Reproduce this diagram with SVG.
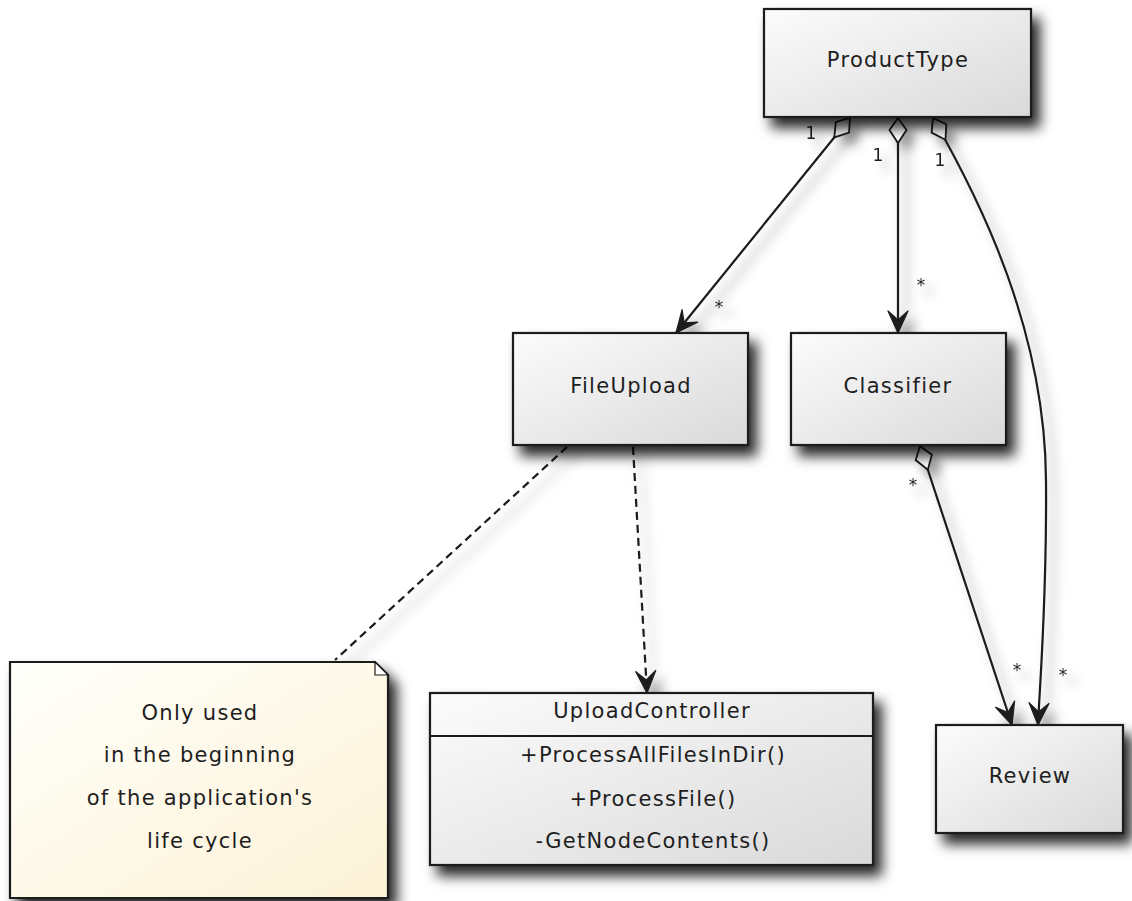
<svg xmlns="http://www.w3.org/2000/svg" width="1132" height="901" viewBox="0 0 1132 901">
<defs>
<linearGradient id="boxFill" x1="0" y1="0" x2="1" y2="1">
<stop offset="0" stop-color="#fcfcfc"/>
<stop offset="1" stop-color="#d9d9d9"/>
</linearGradient>
<linearGradient id="noteFill" x1="0" y1="0" x2="1" y2="1">
<stop offset="0" stop-color="#fffffb"/>
<stop offset="1" stop-color="#fcf2d6"/>
</linearGradient>
<filter id="shadow" x="-20%" y="-20%" width="150%" height="170%">
<feDropShadow dx="8" dy="10" stdDeviation="6.5" flood-color="#000" flood-opacity="0.85"/>
</filter>
<filter id="lineShadow" x="-20%" y="-20%" width="150%" height="150%">
<feDropShadow dx="8" dy="9" stdDeviation="6" flood-color="#000" flood-opacity="0.45"/>
</filter>
<marker id="diamond" markerUnits="userSpaceOnUse" markerWidth="30" markerHeight="22" refX="1" refY="10" orient="auto" overflow="visible">
<path d="M1,10 L13,1.5 L26,10 L13,18.5 Z" fill="#fff" stroke="#1a1a1a" stroke-width="1.8" stroke-linejoin="miter"/>
</marker>
<marker id="arrow" markerUnits="userSpaceOnUse" markerWidth="24" markerHeight="22" refX="22" refY="10" orient="auto" overflow="visible">
<path d="M22,10 L0,0 L9,10 L0,20 Z" fill="#1e1e1e" stroke="#1e1e1e" stroke-width="1.2" stroke-linejoin="round"/>
</marker>
</defs>
<style>
.box{fill:url(#boxFill);stroke:#1a1a1a;stroke-width:2.2;filter:url(#shadow)}
.note{fill:url(#noteFill);stroke:#1a1a1a;stroke-width:2.2;filter:url(#shadow)}
.t{font-family:"DejaVu Sans","Verdana",sans-serif;font-size:21px;letter-spacing:1.3px;fill:#1e1e1e;text-anchor:middle}
.m{font-family:"DejaVu Sans","Verdana",sans-serif;font-size:17px;fill:#1e1e1e;text-anchor:middle}
.c{fill:none;stroke:#1a1a1a;stroke-width:2.2}
.dash{stroke-dasharray:8,5}
</style>
<rect width="1132" height="901" fill="#fff"/>

<g id="connectors" filter="url(#lineShadow)">
<path class="c" d="M850,118 L676,333" marker-start="url(#diamond)" marker-end="url(#arrow)"/>
<path class="c" d="M898,118 L898,333" marker-start="url(#diamond)" marker-end="url(#arrow)"/>
<path class="c" d="M933,118 C980,200 1045,330 1046,480 C1047,600 1040,680 1038,725" marker-start="url(#diamond)" marker-end="url(#arrow)"/>
<path class="c" d="M920,446 L1012,725" marker-start="url(#diamond)" marker-end="url(#arrow)"/>
<path class="c dash" d="M633,447 L647,693" marker-end="url(#arrow)"/>
<path class="c dash" d="M567,447 L335,660"/>
<text class="m" x="811" y="139">1</text>
<text class="m" x="878" y="161">1</text>
<text class="m" x="940" y="166">1</text>
<text class="m" x="719" y="313">*</text>
<text class="m" x="921" y="291">*</text>
<text class="m" x="913" y="491">*</text>
<text class="m" x="1017" y="676">*</text>
<text class="m" x="1063" y="681">*</text>
</g>

<g id="ProductType">
<rect class="box" x="764" y="9" width="267" height="108"/>
<text class="t" x="898" y="67">ProductType</text>
</g>

<g id="FileUpload">
<rect class="box" x="513" y="333" width="235" height="112"/>
<text class="t" x="631" y="393">FileUpload</text>
</g>

<g id="Classifier">
<rect class="box" x="791" y="333" width="215" height="112"/>
<text class="t" x="898" y="393">Classifier</text>
</g>

<g id="Review">
<rect class="box" x="936" y="725" width="187" height="108"/>
<text class="t" x="1030" y="783">Review</text>
</g>

<g id="UploadController">
<rect class="box" x="430" y="693" width="443" height="172"/>
<line x1="430" y1="736" x2="873" y2="736" stroke="#1a1a1a" stroke-width="2.2"/>
<text class="t" x="652" y="718">UploadController</text>
<text class="t" x="653" y="762">+ProcessAllFilesInDir()</text>
<text class="t" x="653" y="806">+ProcessFile()</text>
<text class="t" x="653" y="848">-GetNodeContents()</text>
</g>

<g id="Note">
<path class="note" d="M10,662 L375,662 L388,675 L388,898 L10,898 Z"/>
<path d="M375,662 L375,675 L388,675 Z" fill="#fff" stroke="#1a1a1a" stroke-width="1.2"/>
<text class="t" x="200" y="720">Only used</text>
<text class="t" x="200" y="762">in the beginning</text>
<text class="t" x="200" y="805">of the application's</text>
<text class="t" x="200" y="848">life cycle</text>
</g>
</svg>
